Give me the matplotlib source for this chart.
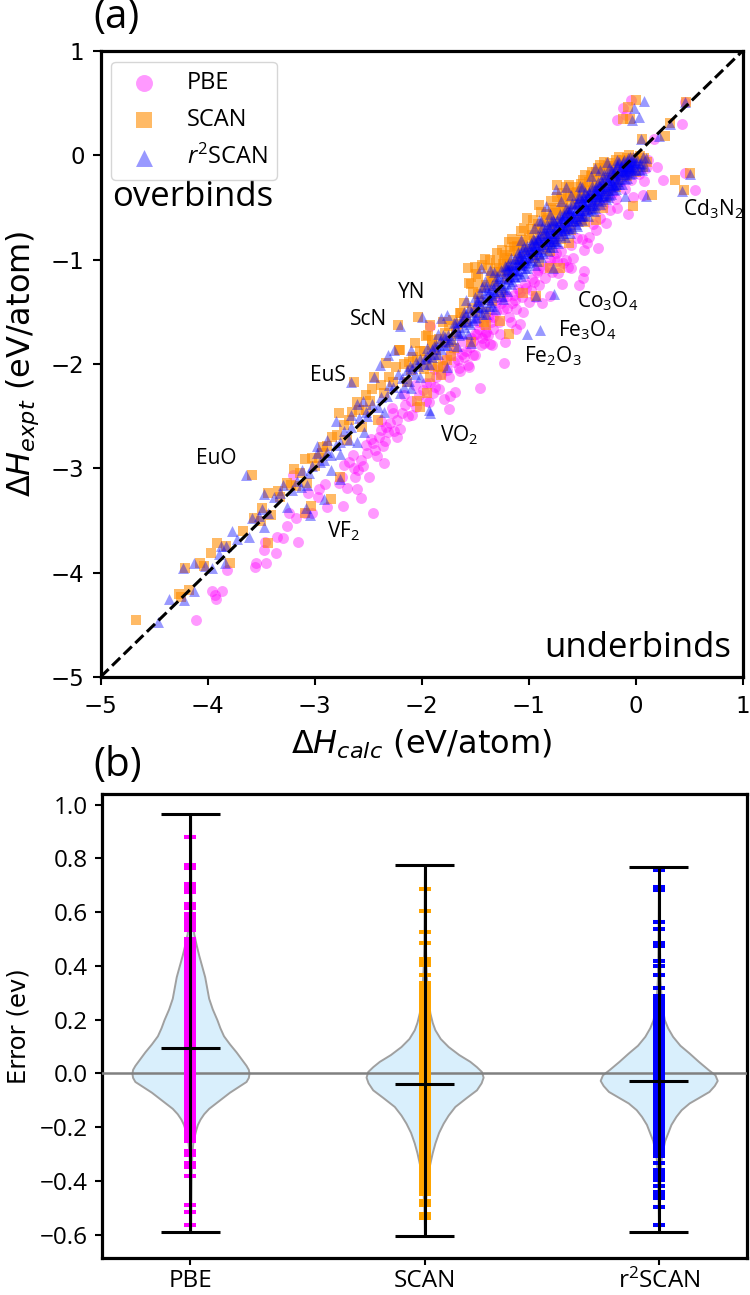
import numpy as np
import matplotlib
matplotlib.use('Agg')
import matplotlib.pyplot as plt

# panel (a): (calc, expt)
pbe_pts = [
    (-4.11,-4.45),(-3.96,-4.18),(-3.93,-4.21),(-3.92,-4.25),(-3.86,-4.18),(-3.56,-3.95),(-3.55,-3.91),(-3.45,-3.91),
    (-3.82,-3.97),(-3.47,-3.78),(-3.36,-3.81),(-3.46,-3.71),(-3.35,-3.66),(-3.29,-3.67),(-3.15,-3.71),(-3.26,-3.55),
    (-3.17,-3.48),(-3.24,-3.43),(-3.09,-3.43),(-3.02,-3.43),(-2.45,-3.43),(-2.73,-3.36),(-2.88,-3.37),(-2.97,-3.27),
    (-3.06,-3.24),(-2.96,-3.20),(-2.90,-3.15),(-2.77,-3.14),(-2.70,-3.19),(-2.60,-3.20),(-2.57,-3.28),(-2.49,-3.08),
    (-2.74,-3.08),(-3.20,-3.06),(-2.63,-3.00),(-2.59,-3.02),(-2.72,-2.97),(-2.35,-2.95),(-2.64,-2.87),(-2.51,-2.85),
    (-2.57,-2.92),(-2.43,-2.82),(-2.52,-2.78),(-2.45,-2.76),(-2.34,-2.74),(-2.40,-2.70),(-2.23,-2.70),(-2.31,-2.65),
    (-2.29,-2.57),(-2.23,-2.54),(-2.27,-2.47),(-2.18,-2.47),(-2.09,-2.49),(-2.15,-2.39),(-1.93,-2.36),(-1.74,-2.43),
    (-1.73,-2.31),(-1.79,-2.34),(-1.69,-2.27),(-1.45,-2.23),(-1.87,-2.22),(-1.99,-2.25),(-1.96,-2.35),(-1.74,-2.12),
    (-1.64,-2.07),(-1.56,-2.03),(-1.65,-2.04),(-1.42,-1.80),(-1.34,-1.82),(-1.50,-1.91),(-1.60,-1.93),(-1.48,-1.71),
    (-1.40,-1.69),(-1.73,-1.91),(-1.92,-1.64),(-1.42,-1.63),(-1.23,-1.99),(-1.22,-1.79),(-1.08,-1.62),(-1.12,-1.66),
    (-1.36,-1.81),(-1.44,-1.82),(-1.52,-1.91),(-1.57,-2.01),(-1.43,-1.75),(-1.50,-1.71),(-1.33,-1.55),(-1.18,-1.55),
    (-1.12,-1.47),(-1.05,-1.50),(-1.13,-1.39),(-0.87,-1.42),(-0.80,-1.35),(-0.90,-1.24),(-0.98,-1.29),(-0.85,-1.18),
    (-0.69,-1.23),(-0.53,-1.24),(-0.49,-1.18),(-0.48,-1.11),(-0.60,-1.08),(-0.65,-1.00),(-0.73,-1.01),(-0.63,-1.07),
    (-0.70,-0.92),(-0.48,-0.91),(-0.35,-0.89),(-0.45,-0.84),(-0.28,-0.65),(-0.07,-0.56),(-0.17,-0.50),(-0.02,-0.40),
    (0.07,-0.38),(0.08,-0.25),(0.26,-0.24),(0.20,-0.11),(0.46,-0.17),(0.56,-0.33),(0.12,-0.04),(0.43,0.30),
    (0.17,0.16),(0.46,0.51),(-0.17,0.34),(-0.12,0.45),(-0.04,0.53),(-0.09,0.39),(-0.37,-0.72),(-0.43,-0.78),
    (-0.55,-0.79),(-0.60,-0.86),(-0.76,-0.98),(-0.82,-1.06),(-0.95,-1.21),(-1.02,-1.27),(-1.06,-1.36),(-1.15,-1.42),
    (-1.24,-1.47),(-1.28,-1.60),(-1.33,-1.66),(-1.38,-1.72),(-1.27,-1.71),(-1.16,-1.60),(-1.00,-1.41),(-0.94,-1.36),
    (-0.78,-1.12),(-0.68,-1.03),(-0.58,-0.98),(-0.50,-0.80),(-0.40,-0.66),(-0.33,-0.60),(-0.24,-0.52),(-0.18,-0.42),
    (-0.10,-0.32),(-0.04,-0.24),(0.03,-0.18),(0.10,-0.12),(-0.30,-0.48),(-0.22,-0.36),(-0.14,-0.25),(-0.06,-0.14),
    (-0.72,-1.13),(-0.91,-1.10),(-1.10,-1.28),(-1.20,-1.35),(-1.55,-1.84),(-1.62,-1.78),(-1.68,-1.86),(-1.80,-2.02),
    (-1.86,-2.12),(-1.92,-2.18),(-2.02,-2.30),(-2.10,-2.35),(-2.33,-2.60),(-2.38,-2.63),(-2.47,-2.72),(-2.68,-2.94),
    (-1.30,-1.50),(-1.26,-1.42),(-1.20,-1.46),(-1.14,-1.34),(-1.08,-1.31),(-1.03,-1.23),(-0.97,-1.19),(-0.92,-1.12),
    (-0.86,-1.08),(-0.80,-1.00),(-0.74,-0.94),(-1.35,-1.60),(-1.41,-1.72),(-1.46,-1.66),(-1.52,-1.78),(-1.58,-1.88),
    (-1.66,-1.96),(-1.70,-1.98),(-1.76,-2.06),(-1.82,-2.10),(-1.89,-2.28),(-1.84,-2.24),(-2.05,-2.41),(-2.13,-2.50),
    (-2.20,-2.62),(-2.26,-2.64),(-2.36,-2.79),(-2.42,-2.88),(-2.55,-2.98),(-2.62,-3.08),
    (-1.88,-2.05),(-1.78,-1.96),(-1.62,-1.90),(-1.54,-1.75),(-1.47,-1.60),(-1.38,-1.55),(-1.30,-1.41),(-1.24,-1.36),
    (-1.96,-2.18),(-2.06,-2.20),(-2.16,-2.30),(-2.28,-2.42),(-2.38,-2.55),
]
scan_pts = [
    (-4.67,-4.45),(-4.27,-4.20),(-4.25,-4.23),(-4.17,-4.17),(-4.21,-3.96),(-4.07,-3.91),(-4.03,-3.94),(-3.79,-3.91),
    (-3.97,-3.81),(-3.91,-3.72),(-3.83,-3.74),(-3.67,-3.60),(-3.43,-3.72),(-3.49,-3.38),(-3.41,-3.45),(-3.57,-3.48),
    (-3.50,-3.50),(-3.43,-3.24),(-3.32,-3.27),(-3.22,-3.16),(-3.09,-3.43),(-3.03,-3.36),(-2.85,-3.29),(-3.19,-3.01),
    (-3.09,-2.91),(-3.58,-3.06),(-3.00,-2.98),(-3.07,-3.14),(-2.76,-3.08),(-2.88,-2.79),(-2.79,-2.68),(-2.77,-2.47),
    (-2.68,-2.54),(-2.60,-2.36),(-2.48,-2.35),(-2.41,-2.54),(-2.63,-2.17),(-2.44,-2.12),(-2.33,-1.99),(-2.20,-1.87),
    (-2.27,-2.17),(-2.35,-2.28),(-2.01,-2.41),(-2.04,-2.35),(-2.22,-1.63),(-2.03,-1.55),(-1.94,-1.72),(-2.01,-1.88),
    (-1.88,-1.87),(-1.85,-2.03),(-1.92,-2.12),(-1.82,-2.11),(-2.04,-1.96),(-1.76,-1.96),(-1.64,-1.51),(-1.71,-1.58),
    (-1.40,-1.63),(-1.54,-1.79),(-1.57,-1.08),(-1.50,-1.07),(-1.54,-1.23),(-1.41,-0.99),(-1.29,-0.94),(-1.18,-0.83),
    (-1.07,-0.73),(-1.01,-0.60),(-0.90,-0.48),(-0.73,-0.40),(-0.73,-0.28),(-0.65,-0.30),(-0.55,-0.35),(-0.41,-0.16),
    (-0.29,-0.06),(-0.12,-0.04),(0.08,-0.03),(0.15,-0.38),(-0.02,-0.49),(0.37,-0.24),(0.45,-0.33),(0.51,-0.17),
    (0.28,0.19),(0.06,0.16),(0.32,0.31),(0.47,0.51),(0.00,0.53),(-0.07,0.46),(-0.12,0.35),(-0.05,0.35),
    (-2.21,-1.87),(-1.92,-1.63),(-1.96,-1.73),(-1.63,-1.51),(-1.18,-1.71),(-1.42,-1.60),(-1.27,-1.59),(-0.93,-1.35),
    (-1.05,-1.32),(-0.71,-1.08),(-0.80,-1.08),(-0.37,-0.62),(-0.62,-0.84),
    (-1.60,-1.42),(-1.52,-1.31),(-1.47,-1.17),(-1.44,-1.26),(-1.38,-1.08),(-1.35,-1.18),(-1.30,-1.03),(-1.26,-1.12),
    (-1.22,-0.96),(-1.18,-1.04),(-1.14,-0.88),(-1.10,-0.97),(-1.06,-0.81),(-1.02,-0.90),(-0.98,-0.71),(-0.95,-0.82),
    (-0.91,-0.66),(-0.87,-0.75),(-0.84,-0.56),(-0.81,-0.67),(-0.77,-0.50),(-0.74,-0.60),(-0.70,-0.42),(-0.67,-0.53),
    (-0.63,-0.38),(-0.60,-0.47),(-0.56,-0.30),(-0.53,-0.40),(-0.49,-0.24),(-0.46,-0.33),(-0.42,-0.20),(-0.39,-0.28),
    (-0.35,-0.12),(-0.32,-0.22),(-0.26,-0.10),(-0.22,-0.17),(-0.18,-0.04),(-0.14,-0.11),(-0.08,-0.03),(-0.04,-0.09),
    (0.02,-0.05),(0.07,-0.11),(-1.32,-1.25),(-1.20,-1.18),(-1.08,-1.05),(-0.96,-0.98),(-0.86,-0.90),(-0.76,-0.82),
    (-0.66,-0.70),(-0.56,-0.63),(-0.46,-0.52),(-0.36,-0.42),(-0.26,-0.33),(-0.16,-0.24),(-0.47,-0.64),(-0.30,-0.50),
    (-1.78,-1.70),(-1.72,-1.78),(-1.84,-1.76),(-1.70,-1.85),(-1.58,-1.60),(-1.50,-1.50),(-1.46,-1.40),(-1.40,-1.50),
    (-1.34,-1.40),(-1.26,-1.32),(-2.10,-2.06),(-2.14,-2.17),(-1.98,-2.05),(-1.95,-2.28),(-2.52,-2.44),(-2.56,-2.60),
    (-2.93,-2.85),(-2.70,-2.73),(-2.96,-2.90),(-3.17,-3.17),
    (-1.56,-1.22),(-1.49,-1.14),(-1.43,-1.05),(-1.36,-1.00),(-1.31,-1.12),(-1.25,-0.91),(-1.20,-0.98),(-1.15,-0.80),
    (-1.11,-0.87),(-1.04,-0.70),(-1.00,-0.79),(-0.96,-0.62),(-0.92,-0.71),(-0.88,-0.54),(-0.83,-0.62),(-0.79,-0.44),
    (-0.75,-0.52),(-0.69,-0.36),(-0.68,-0.46),(-0.62,-0.28),(-0.58,-0.36),(-0.51,-0.27),(-0.47,-0.19),(-0.43,-0.26),
    (-0.37,-0.16),(-0.33,-0.09),(-0.28,-0.17),(-0.24,-0.07),(-0.20,-0.12),(-0.15,-0.02),(-0.10,-0.08),(-0.06,0.00),
    (-0.01,-0.03),(0.04,-0.01),(0.11,-0.06),(-1.66,-1.62),(-1.60,-1.55),(-1.53,-1.46),(-1.47,-1.33),(-1.40,-1.24),
    (-1.33,-1.20),(-1.24,-1.04),(-1.17,-0.92),(-1.09,-0.83),(-2.06,-1.80),(-1.90,-1.77),(-1.80,-1.60),(-1.74,-1.64),
    (-1.68,-1.70),(-2.16,-2.00),(-2.08,-1.93),(-1.96,-1.96),(-1.86,-1.92),
    (-1.34,-1.16),(-1.28,-1.08),(-1.23,-1.00),(-1.19,-1.10),(-1.13,-0.92),(-1.09,-1.00),(-1.05,-0.86),(-1.00,-0.92),
    (-0.97,-0.76),(-0.93,-0.84),(-0.89,-0.72),(-0.85,-0.78),(-0.82,-0.60),(-0.78,-0.70),(-0.74,-0.55),(-0.72,-0.64),
    (-0.68,-0.50),(-0.64,-0.55),(-0.61,-0.40),(-0.57,-0.48),(-0.54,-0.42),(-0.50,-0.34),(-0.47,-0.40),(-0.44,-0.30),
    (-0.40,-0.34),(-0.36,-0.25),(-0.33,-0.30),(-0.30,-0.16),(-0.27,-0.22),(-0.23,-0.10),(-0.20,-0.20),(-0.16,-0.09),
    (-0.13,-0.16),(-0.09,-0.05),(-0.06,-0.12),(-0.03,-0.05),(-0.90,-1.02),(-0.80,-0.92),(-0.70,-0.80),(-0.60,-0.72),
    (-0.50,-0.62),(-0.40,-0.50),(-0.28,-0.40),(-0.18,-0.30),(-0.08,-0.20),(0.00,-0.16),
    (-1.90,-2.02),(-1.80,-2.02),(-1.72,-1.92),(-1.98,-1.88),(-1.90,-1.82),(-1.78,-1.80),(-2.12,-1.98),(-2.24,-2.03),
    (-2.30,-2.12),(-2.38,-2.20),(-2.46,-2.24),(-2.52,-2.30),(-2.58,-2.44),(-2.65,-2.46),(-2.72,-2.58),(-2.84,-2.70),
    (-2.92,-2.80),(-3.02,-2.90),(-3.14,-3.04),(-3.26,-3.14),(-3.34,-3.22),
]
r2scan_pts = [
    (-4.46,-4.47),(-4.36,-4.25),(-4.22,-4.26),(-4.13,-4.18),(-4.23,-3.96),(-4.13,-3.91),(-4.02,-3.94),(-3.96,-3.96),
    (-3.84,-3.91),(-3.89,-3.82),(-3.87,-3.74),(-3.83,-3.74),(-3.77,-3.60),(-3.72,-3.68),(-3.61,-3.66),(-3.47,-3.56),
    (-3.58,-3.48),(-3.49,-3.39),(-3.52,-3.46),(-3.43,-3.43),(-3.47,-3.25),(-3.38,-3.27),(-3.26,-3.37),(-3.64,-3.06),
    (-3.29,-3.16),(-3.21,-3.21),(-3.13,-3.18),(-3.07,-3.16),(-3.12,-3.02),(-2.85,-3.02),(-3.02,-2.98),(-2.98,-2.79),
    (-2.98,-2.85),(-2.91,-2.92),(-2.85,-2.87),(-2.88,-2.73),(-2.76,-2.86),(-2.76,-2.75),(-2.68,-2.73),(-2.60,-2.75),
    (-2.54,-2.65),(-2.80,-2.55),(-2.66,-2.49),(-2.60,-2.38),(-2.55,-2.35),(-2.51,-2.50),(-2.41,-2.41),(-2.35,-2.46),
    (-2.32,-2.31),(-2.27,-2.22),(-2.20,-2.28),(-2.10,-2.23),(-2.14,-2.06),(-2.66,-2.17),(-2.44,-2.12),(-2.39,-2.01),
    (-2.31,-1.91),(-2.26,-1.87),(-2.10,-1.87),(-2.20,-1.64),(-2.00,-1.55),(-1.82,-1.56),(-1.76,-1.53),(-1.85,-1.71),
    (-1.70,-1.61),(-1.57,-1.71),(-1.54,-1.80),(-2.01,-1.95),(-1.88,-1.83),(-2.09,-2.04),(-2.01,-2.12),(-1.76,-2.03),
    (-1.67,-1.83),(-1.92,-2.47),(-1.93,-2.44),(-3.04,-3.45),(-3.08,-3.38),(-2.91,-3.29),(-2.76,-3.10),
    (-1.01,-1.71),(-0.89,-1.67),(-0.76,-1.33),(-0.93,-1.35),(-0.77,-1.08),(0.46,0.51),(0.08,0.52),(-0.01,0.45),
    (0.03,0.37),(-0.03,0.34),(0.32,0.30),(0.22,0.19),(0.05,0.16),(0.51,-0.18),(0.43,-0.34),(0.10,-0.03),
    (0.10,-0.39),(-0.10,-0.39),(-1.44,-1.08),(-1.43,-1.26),(-1.58,-1.39),(-1.36,-1.10),(-1.21,-1.07),(-1.07,-0.81),
    (-0.90,-0.62),(-0.84,-0.49),(-0.74,-0.32),(-0.65,-0.30),(-0.52,-0.29),(-0.38,-0.12),(-0.27,-0.06),(-0.17,-0.04),
    (-2.18,-2.13),(-2.12,-2.16),(-2.05,-1.98),(-1.98,-2.00),(-1.95,-1.92),(-1.90,-1.93),(-1.86,-1.82),(-1.82,-1.86),
    (-1.78,-1.74),(-1.74,-1.78),(-1.70,-1.68),(-1.66,-1.70),(-1.64,-1.60),(-1.60,-1.65),
    (-1.62,-1.59),(-1.58,-1.52),(-1.55,-1.62),(-1.50,-1.45),(-1.49,-1.55),(-1.46,-1.50),(-1.44,-1.38),(-1.42,-1.46),
    (-1.40,-1.52),(-1.38,-1.33),(-1.36,-1.41),(-1.35,-1.28),(-1.33,-1.36),(-1.31,-1.47),(-1.30,-1.22),(-1.28,-1.30),
    (-1.27,-1.18),(-1.25,-1.26),(-1.24,-1.38),(-1.22,-1.13),(-1.21,-1.22),(-1.20,-1.30),(-1.18,-1.16),(-1.17,-1.05),
    (-1.15,-1.20),(-1.14,-1.10),(-1.12,-1.02),(-1.11,-1.14),(-1.10,-0.93),(-1.08,-1.05),(-1.07,-1.16),(-1.05,-0.98),
    (-1.04,-0.88),(-1.03,-1.08),(-1.01,-0.94),(-1.00,-1.02),(-0.98,-0.84),(-0.97,-0.95),(-0.95,-0.87),(-0.94,-1.05),
    (-0.92,-0.79),(-0.91,-0.92),(-0.89,-0.83),(-0.88,-0.97),(-0.86,-0.74),(-0.85,-0.87),(-0.84,-0.78),(-0.82,-0.92),
    (-0.81,-0.70),(-0.80,-0.82),(-0.78,-0.74),(-0.77,-0.88),(-0.76,-0.64),(-0.74,-0.77),(-0.73,-0.69),(-0.72,-0.84),
    (-0.70,-0.60),(-0.69,-0.72),(-0.68,-0.64),(-0.66,-0.78),(-0.65,-0.55),(-0.64,-0.67),(-0.62,-0.59),(-0.61,-0.74),
    (-0.60,-0.50),(-0.58,-0.62),(-0.57,-0.54),(-0.55,-0.68),(-0.54,-0.45),(-0.52,-0.58),(-0.51,-0.49),(-0.50,-0.62),
    (-0.48,-0.40),(-0.47,-0.53),(-0.46,-0.44),(-0.44,-0.58),(-0.43,-0.35),(-0.42,-0.48),(-0.40,-0.39),(-0.39,-0.53),
    (-0.37,-0.30),(-0.36,-0.43),(-0.35,-0.34),(-0.33,-0.47),(-0.32,-0.25),(-0.31,-0.38),(-0.30,-0.29),(-0.28,-0.42),
    (-0.27,-0.20),(-0.26,-0.33),(-0.24,-0.24),(-0.23,-0.37),(-0.22,-0.15),(-0.21,-0.28),(-0.19,-0.19),(-0.18,-0.32),
    (-0.17,-0.10),(-0.16,-0.23),(-0.14,-0.14),(-0.13,-0.27),(-0.12,-0.06),(-0.11,-0.18),(-0.09,-0.10),(-0.08,-0.22),
    (-0.07,-0.03),(-0.06,-0.13),(-0.04,-0.06),(-0.03,-0.17),(-0.02,-0.02),(-0.01,-0.10),(0.01,-0.04),(0.03,-0.13),
    (0.05,-0.07),(0.07,-0.02),(0.09,-0.10),
    (-1.34,-1.24),(-1.29,-1.16),(-1.26,-1.10),(-1.23,-1.18),(-1.19,-1.09),(-1.16,-0.98),(-1.13,-1.06),(-1.09,-0.99),
    (-1.06,-0.90),(-1.02,-0.98),(-0.99,-0.90),(-0.96,-0.80),(-0.93,-0.86),(-0.90,-0.78),(-0.87,-0.69),(-0.83,-0.85),
    (-0.83,-0.71),(-0.79,-0.79),(-0.79,-0.63),(-0.75,-0.71),(-0.75,-0.82),(-0.71,-0.64),(-0.71,-0.76),(-0.67,-0.57),
    (-0.67,-0.70),(-0.63,-0.63),(-0.63,-0.51),(-0.59,-0.56),(-0.59,-0.70),(-0.56,-0.47),(-0.56,-0.60),(-0.53,-0.52),
    (-0.53,-0.41),(-0.49,-0.46),(-0.49,-0.57),(-0.45,-0.38),(-0.45,-0.50),(-0.41,-0.44),(-0.41,-0.33),(-0.38,-0.37),
    (-0.38,-0.48),(-0.34,-0.29),(-0.34,-0.40),(-0.29,-0.33),(-0.29,-0.23),(-0.25,-0.27),(-0.25,-0.38),(-0.20,-0.22),
    (-0.20,-0.33),(-0.15,-0.16),(-0.15,-0.27),(-0.10,-0.12),(-0.10,-0.23),(-0.05,-0.08),(-0.05,-0.18),(0.00,-0.07),
    (0.00,-0.14),(0.04,-0.08),(0.06,-0.14),(-1.48,-1.40),(-1.45,-1.32),(-1.40,-1.26),(-1.37,-1.38),(-1.32,-1.30),
    (-1.19,-1.05),(-1.19,-1.19),(-1.16,-1.10),(-1.16,-1.23),(-1.13,-0.99),(-1.13,-1.17),(-1.10,-1.04),(-1.10,-1.11),
    (-1.07,-0.94),(-1.07,-1.02),(-1.04,-0.99),(-1.04,-1.13),(-1.01,-0.87),(-1.01,-1.08),(-0.98,-0.92),(-0.98,-1.00),
    (-0.95,-0.81),(-0.95,-0.96),(-0.92,-0.86),(-0.92,-1.01),(-0.89,-0.76),(-0.89,-0.90),(-0.86,-0.81),(-0.86,-0.94),
    (-0.83,-0.66),(-0.83,-0.76),(-0.80,-0.74),(-0.80,-0.88),(-0.77,-0.62),(-0.77,-0.79),(-0.74,-0.68),(-0.74,-0.82),
    (-0.71,-0.56),(-0.71,-0.70),(-0.68,-0.60),(-0.68,-0.74),(-0.65,-0.50),(-0.65,-0.68),(-0.62,-0.54),(-0.62,-0.70),
    (-0.59,-0.46),(-0.59,-0.60),(-0.56,-0.52),(-0.56,-0.66),(-0.53,-0.38),(-0.53,-0.55),(-0.50,-0.44),(-0.50,-0.58),
    (-0.47,-0.35),(-0.47,-0.49),(-0.44,-0.40),(-0.44,-0.52),(-0.41,-0.29),(-0.41,-0.46),(-0.38,-0.33),(-0.38,-0.50),
    (-0.35,-0.26),(-0.35,-0.39),(-0.32,-0.31),(-0.32,-0.44),(-0.29,-0.18),(-0.29,-0.36),(-0.26,-0.24),(-0.26,-0.40),
    (-0.23,-0.14),(-0.23,-0.30),(-0.20,-0.17),(-0.20,-0.28),(-0.17,-0.08),(-0.17,-0.25),(-0.14,-0.11),(-0.14,-0.20),
    (-0.11,-0.04),(-0.11,-0.15),(-0.08,-0.05),(-0.08,-0.16),(-0.05,-0.02),(-0.05,-0.12),(-0.02,-0.05),(-0.02,-0.14),
    (-1.18,-1.11),(-1.15,-1.04),(-1.12,-1.10),(-1.09,-0.96),(-1.06,-1.05),(-1.03,-0.92),(-1.00,-0.97),(-0.97,-0.86),
    (-0.94,-0.92),(-0.91,-0.80),(-0.88,-0.85),(-0.85,-0.72),(-0.82,-0.80),(-0.79,-0.68),(-0.76,-0.74),(-0.73,-0.62),
    (-0.70,-0.68),(-0.67,-0.58),(-0.64,-0.62),(-0.61,-0.52),(-0.58,-0.58),(-0.55,-0.46),(-0.52,-0.52),(-0.49,-0.40),
    (-0.46,-0.47),(-0.43,-0.37),(-0.40,-0.42),(-0.37,-0.33),(-0.34,-0.36),(-0.31,-0.26),(-0.28,-0.31),(-0.25,-0.21),
    (-0.22,-0.26),(-0.19,-0.14),(-0.16,-0.18),(-0.13,-0.10),(-0.10,-0.15),(-0.07,-0.08),(-0.04,-0.11),(-0.01,-0.06),
    (-1.14,-1.16),(-1.08,-0.98),(-1.02,-1.03),(-0.96,-0.90),(-0.90,-0.95),(-0.84,-0.82),(-0.78,-0.84),(-0.72,-0.73),
    (-0.66,-0.72),(-0.60,-0.63),(-0.54,-0.63),(-0.48,-0.47),(-0.42,-0.51),(-0.36,-0.37),(-0.30,-0.39),(-0.24,-0.29),
    (-0.18,-0.27),(-0.12,-0.14),(-0.06,-0.10),(-0.95,-0.70),(-0.88,-0.63),(-0.80,-0.56),(-0.70,-0.44),(-0.60,-0.38),
    (-0.50,-0.30),(-0.42,-0.20),(-0.33,-0.14),(-0.25,-0.12),(-0.15,-0.06),(-1.95,-1.85),(-1.88,-1.90),(-1.80,-1.72),
    (-1.76,-1.82),(-1.68,-1.60),(-1.62,-1.70),(-1.56,-1.46),(-1.52,-1.58),(-1.47,-1.40),(-1.43,-1.52),(-1.39,-1.29),
    (-1.34,-1.44),(-1.29,-1.20),(-1.25,-1.35),(-1.22,-1.06),(-1.60,-1.50),(-1.50,-1.36),(-1.41,-1.20),(-1.32,-1.12),
    (-2.22,-2.10),(-2.16,-2.22),(-2.11,-2.02),(-2.06,-2.10),(-2.03,-2.02),(-1.97,-1.94),(-1.93,-2.00),(-1.90,-1.86),
    (-1.85,-1.90),(-1.83,-1.78),(-1.79,-1.82),(-1.75,-1.72),(-1.72,-1.76),(-1.68,-1.65),(-1.65,-1.72),(-1.61,-1.56),
    (-1.57,-1.60),(-1.54,-1.50),(-1.50,-1.56),(-1.47,-1.45),(-1.44,-1.44),(-1.41,-1.36),(-1.37,-1.44),(-1.35,-1.34),
    (-1.31,-1.32),(-1.27,-1.24),(-1.23,-1.28),(-2.30,-2.20),(-2.38,-2.32),(-2.46,-2.38),(-2.52,-2.46),(-2.58,-2.52),
    (-2.66,-2.60),(-2.72,-2.64),(-2.80,-2.78),(-2.88,-2.84),(-2.95,-2.94),(-3.05,-3.04),(-3.16,-3.12),(-3.32,-3.24),
]
# compound labels (x, y of left edge)
labels = ['Cd$_3$N$_2$','YN','ScN','EuS','EuO','VF$_2$','VO$_2$','Fe$_2$O$_3$','Fe$_3$O$_4$','Co$_3$O$_4$']
label_x = [0.44,-2.22,-2.67,-3.04,-4.11,-2.88,-1.83,-1.04,-0.72,-0.55]
label_y = [-0.52,-1.31,-1.57,-2.11,-2.91,-3.60,-2.68,-1.93,-1.68,-1.40]

# panel (b): violin outlines (error, relative width) and summary stats
pbe_err = [-0.59,-0.40,-0.30,-0.26,-0.23,-0.21,-0.19,-0.17,-0.15,-0.13,-0.11,-0.09,-0.07,-0.05,-0.03,-0.015,0.0,
           0.015,0.03,0.05,0.08,0.11,0.14,0.17,0.20,0.24,0.28,0.32,0.36,0.40,0.44,0.48,0.52,0.60,0.70,0.965]
pbe_dens = [0.5,2,4,7,12,16,21,29,40,55,76,97,118,143,168,175,177,
            175,168,156,138,118,100,89,80,66,55,49,43,34,25,17,10,3,1,0.5]
scan_err = [-0.604,-0.50,-0.408,-0.37,-0.334,-0.295,-0.259,-0.22,-0.185,-0.155,-0.123,-0.09,-0.061,-0.035,-0.014,
            0.007,0.025,0.045,0.07,0.10,0.13,0.1625,0.19,0.225,0.26,0.30,0.40,0.50,0.775]
scan_dens = [0.5,2,6,10,16,23,31,42,56,71,91,125,156,170,176,171,156,136,103,71,47,31,23,16,12,8,4,2,0.5]
r2scan_err = [-0.592,-0.45,-0.38,-0.32,-0.284,-0.25,-0.222,-0.19,-0.16,-0.135,-0.11,-0.09,-0.067,-0.045,-0.026,-0.005,
              0.014,0.045,0.076,0.105,0.138,0.17,0.20,0.235,0.27,0.35,0.50,0.768]
r2scan_dens = [0.5,2,4,7,12,18,27,37,52,68,92,120,152,168,177,170,150,120,92,64,42,27,17,12,8,4,2,0.5]
means = [0.095,-0.038,-0.03]
mins = [-0.59,-0.604,-0.592]
maxes = [0.965,0.775,0.768]

# rug values
pbe_rug = [
    0.88,0.775,0.765,0.705,0.69,0.675,0.63,0.615,0.595,0.58,0.565,0.55,0.535,
    0.50,0.49,0.478,0.466,0.455,0.443,0.432,0.42,0.408,0.397,0.385,0.374,0.362,0.35,0.339,0.327,0.316,
    0.304,0.293,0.281,0.27,0.258,0.246,0.235,0.223,0.212,0.20,0.189,0.177,0.166,0.154,0.142,0.131,0.119,
    0.108,0.096,0.085,0.073,0.062,0.05,0.038,0.027,0.015,0.004,-0.008,-0.019,-0.031,-0.042,-0.054,-0.066,
    -0.077,-0.089,-0.10,-0.112,-0.123,-0.135,-0.146,-0.158,-0.17,-0.181,-0.193,-0.204,-0.216,-0.225,
    -0.24,-0.25,-0.29,-0.305,-0.335,-0.35,-0.38,-0.49,-0.515,-0.565,
]
scan_rug = [
    0.687,0.603,0.525,0.487,0.427,0.417,0.404,0.367,0.336,0.325,0.311,0.30,0.288,0.275,0.262,
    0.25,0.238,0.227,0.215,0.204,0.192,0.18,0.169,0.157,0.146,0.134,0.122,0.111,0.099,0.088,0.076,0.065,
    0.053,0.041,0.03,0.018,0.007,-0.005,-0.017,-0.028,-0.04,-0.051,-0.063,-0.075,-0.086,-0.098,-0.109,
    -0.121,-0.133,-0.144,-0.156,-0.167,-0.179,-0.191,-0.202,-0.214,-0.225,-0.237,-0.249,-0.26,-0.272,
    -0.283,-0.295,-0.307,-0.318,-0.33,-0.341,-0.353,-0.365,-0.376,-0.388,-0.399,-0.411,-0.423,-0.434,-0.45,
    -0.473,-0.489,-0.522,-0.538,
]
r2scan_rug = [
    0.758,0.693,0.684,0.563,0.537,0.487,0.475,0.417,0.398,0.367,0.318,0.289,0.277,0.262,
    0.25,0.239,0.227,0.216,0.204,0.192,0.181,0.169,0.158,0.146,0.134,0.123,0.111,0.10,0.088,0.076,0.065,
    0.053,0.042,0.03,0.018,0.007,-0.005,-0.016,-0.028,-0.04,-0.051,-0.063,-0.074,-0.086,-0.098,-0.109,
    -0.121,-0.132,-0.144,-0.156,-0.167,-0.179,-0.19,-0.202,-0.214,-0.225,-0.237,-0.248,-0.26,-0.272,
    -0.283,-0.295,-0.309,-0.334,-0.359,-0.371,-0.384,-0.397,-0.42,-0.443,-0.455,-0.465,-0.498,-0.565,
]
methods = ['PBE','SCAN','r$^2$SCAN']

W, H = 750., 1295.
plt.rcParams['axes.linewidth'] = 2.3
plt.rcParams['font.family'] = ['DejaVu Sans']
plt.rcParams['mathtext.fontset'] = 'custom'
plt.rcParams['mathtext.rm'] = 'Open Sans'
plt.rcParams['mathtext.it'] = 'Open Sans:italic'
plt.rcParams['mathtext.bf'] = 'Open Sans:bold'
fig = plt.figure(figsize=(W/100, H/100), dpi=100)

# panel a
ax1 = fig.add_axes([100.5/W, 1-677/H, 642/W, 626/H])
pbe = np.array(pbe_pts).T
scan = np.array(scan_pts).T
r2 = np.array(r2scan_pts).T
ax1.scatter(pbe[0], pbe[1], s=62, c='magenta', alpha=0.4, marker='o', linewidths=0, label='PBE')
ax1.scatter(scan[0], scan[1], s=62, c='darkorange', alpha=0.6, marker='s', linewidths=0, label='SCAN')
ax1.scatter(r2[0], r2[1], s=62, c='blue', alpha=0.4, marker='^', linewidths=0, label='$r^2$SCAN')
ax1.plot([-5, 1], [-5, 1], 'k--', lw=2.2, zorder=5)
ax1.set_xlim(-5, 1)
ax1.set_ylim(-5, 1)
ax1.set_xticks(range(-5, 2))
ax1.set_yticks(range(-5, 2))
ax1.tick_params(labelsize=16.5, width=1.5, length=6)
ax1.tick_params(axis='x', pad=7)
ax1.tick_params(axis='y', pad=5.5)
ax1.set_xlabel(r'$\Delta H_{calc}$ (eV/atom)', fontsize=23, labelpad=7, math_fontfamily='dejavusans')
ax1.set_ylabel(r'$\Delta H_{expt}$ (eV/atom)', fontsize=23, math_fontfamily='dejavusans')
ax1.yaxis.set_label_coords(-0.093, 0.5)
ax1.legend(loc='upper left', prop={'family': 'Open Sans', 'size': 17}, markerscale=1.55, borderaxespad=0.45,
           labelspacing=0.55)
ax1.text(-4.89, -0.40, 'overbinds', fontsize=25, va='center', ha='left', family='Open Sans')
ax1.text(0.897, -4.72, 'underbinds', fontsize=25, va='center', ha='right', family='Open Sans')
for name, x, y in zip(labels, label_x, label_y):
    ax1.text(x, y, name, fontsize=15, va='center', ha='left', family='Open Sans')

# panel b
ax2 = fig.add_axes([101.5/W, 1-1258/H, 645/W, 464/H])
ax2.axhline(0, color='gray', lw=1.8, zorder=3)
errs = [pbe_err, scan_err, r2scan_err]
dens = [pbe_dens, scan_dens, r2scan_dens]
stats = []
for i in range(3):
    stats.append({'coords': np.array(errs[i]), 'vals': np.array(dens[i]), 'mean': means[i],
                  'median': means[i], 'min': mins[i], 'max': maxes[i]})
parts = ax2.violin(stats, positions=[1, 2, 3], widths=0.5, showmeans=True, showextrema=True)
for body in parts['bodies']:
    body.set_facecolor('#d9effc')
    body.set_edgecolor('#a0a0a0')
    body.set_linewidth(1.4)
    body.set_alpha(1)
for key in ['cmeans', 'cmins', 'cmaxes', 'cbars']:
    parts[key].set_color('k')
    parts[key].set_linewidth(2.2)
    parts[key].set_zorder(5)
colors = ['magenta', 'orange', 'blue']
rugs = [pbe_rug, scan_rug, r2scan_rug]
for i in range(3):
    # butt caps so the dense stretch closes up without spreading the ends
    ax2.plot([i+1]*len(rugs[i]), rugs[i], ls='none', marker='_', ms=8, mew=2.9, color=colors[i], zorder=4)
ax2.set_xlim(0.62, 3.375)
ax2.set_ylim(-0.687, 1.04)
ax2.set_xticks([1, 2, 3])
ax2.set_xticklabels(methods, family='Open Sans')
ax2.set_yticks(np.arange(-0.6, 1.01, 0.2))
for lab in ax2.get_yticklabels():
    lab.set_family('Open Sans')
ax2.tick_params(labelsize=17.5, width=1.5, length=5)
ax2.tick_params(axis='x', pad=3)
ax2.tick_params(axis='y', pad=5)
ax2.set_ylabel('Error (ev)', fontsize=17.5)
ax2.yaxis.set_label_coords(-0.11, 0.5)

fig.text(93/W, 1-18/H, '(a)', fontsize=29, va='center', ha='left', family='Open Sans')
fig.text(93/W, 1-766/H, '(b)', fontsize=29, va='center', ha='left', family='Open Sans')
fig.savefig('out.png', dpi=100)
